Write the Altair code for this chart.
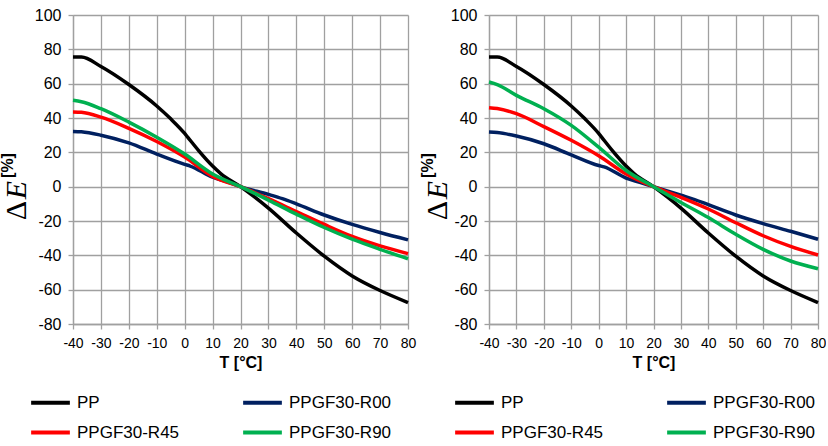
import altair as alt
import pandas as pd

SERIES = ["PP", "PPGF30-R00", "PPGF30-R45", "PPGF30-R90"]
COLORS = ["#000000", "#002060", "#ff0000", "#00b050"]
X_TICKS = list(range(-40, 81, 10))
Y_TICKS = list(range(-80, 101, 20))

# PP (same in both panels)
PP_T = [-40, -37, -30, -20, -10, -5, 0, 1, 5, 10, 13, 20, 25, 30, 40, 50, 60, 70, 80]
PP_V = [75.5, 75.5, 70, 59.5, 47, 39.5, 31, 29, 21, 12, 7.5, 0, -6, -12.5, -27, -40.5, -52, -60.5, -67.5]

R00_T = [-40, -37, -30, -20, -10, 0, 2, 10, 15, 20, 30, 35, 40, 50, 60, 70, 80]
R00_LEFT = [32.2, 32, 30, 25.5, 19, 13, 12, 5.5, 3, 0, -4.5, -7, -10, -16.5, -22, -26.7, -31]
R00_RIGHT = [31.8, 31.5, 29.5, 25, 18.5, 12.3, 11.5, 5, 2.5, 0, -5, -7.5, -10.5, -16.5, -21.5, -26, -30.6]

RX_T = [-40, -37, -30, -20, -10, 0, 10, 20, 30, 40, 50, 60, 70, 80]
R45_LEFT = [43.5, 43.3, 40.5, 34, 26.3, 17.2, 6, 0, -7, -14.5, -22, -29, -34.5, -39]
R45_RIGHT = [46, 45.5, 42.5, 35, 27, 18, 7.4, 0, -6.2, -13, -21, -28.6, -34.8, -39.8]
R90_LEFT = [50.3, 49.5, 45.4, 37.6, 28.8, 19, 7.4, 0, -7.8, -16, -23.8, -30.6, -36.5, -42]
R90_RIGHT = [61, 59.5, 53.2, 45.4, 35.7, 23, 9.4, 0, -9.2, -18, -27.7, -36.5, -43.3, -47.8]


def frame(r00, r45, r90):
    rows = []
    for name, ts, vs in [("PP", PP_T, PP_V), ("PPGF30-R00", R00_T, r00),
                         ("PPGF30-R45", RX_T, r45), ("PPGF30-R90", RX_T, r90)]:
        for t, v in zip(ts, vs):
            rows.append({"series": name, "T": t, "dE": v})
    return pd.DataFrame(rows)


GRID = "#a0a0a0"


def panel(df, w, title_x, legend_x):
    lines = alt.Chart(df).mark_line(strokeWidth=3.5, interpolate="monotone").encode(
        x=alt.X("T:Q", scale=alt.Scale(domain=[-40, 80], nice=False),
                axis=alt.Axis(values=X_TICKS, title="T [°C]", labelFontSize=14,
                              labelExpr="'' + datum.value", labelFlush=False,
                              labelOverlap=False,
                              titleFontSize=16, titleFontWeight="bold", labelPadding=7,
                              titlePadding=4)),
        y=alt.Y("dE:Q", scale=alt.Scale(domain=[-80, 100], nice=False),
                axis=alt.Axis(values=Y_TICKS, title="[%]", labelFontSize=16, labelPadding=7,
                              labelExpr="'' + datum.value", labelOverlap=False,
                              titleX=title_x - 10, titleY=150, titleAngle=270,
                              titleAlign="center", titleBaseline="middle",
                              titleFontSize=16, titleFontWeight="bold")),
        color=alt.Color("series:N", scale=alt.Scale(domain=SERIES, range=COLORS),
                        legend=alt.Legend(title=None, orient="none", legendX=legend_x, legendY=366,
                                          direction="horizontal",
                                          columns=2, symbolType="stroke", symbolSize=1500,
                                          symbolStrokeWidth=4, labelFontSize=17,
                                          labelFont="Liberation Sans", columnPadding=55,
                                          rowPadding=0, labelOffset=5, padding=0,
                                          labelColor="#000000")),
        order=alt.Order("T:Q"),
    )
    t1 = alt.Chart(pd.DataFrame({"s": ["Δ"]})).mark_text(
        font="Liberation Serif", fontSize=30, angle=270, align="center", baseline="middle",
        color="#000000").encode(text="s:N", x=alt.value(title_x), y=alt.value(195.5))
    t2 = alt.Chart(pd.DataFrame({"s": ["E"]})).mark_text(
        font="Liberation Serif", fontSize=30, fontStyle="italic", angle=270, align="center",
        baseline="middle", color="#000000").encode(text="s:N", x=alt.value(title_x), y=alt.value(175))
    return alt.layer(lines, t1, t2).properties(width=w, height=309)


left = panel(frame(R00_LEFT, R45_LEFT, R90_LEFT), 335, -56, -44)
right = panel(frame(R00_RIGHT, R45_RIGHT, R90_RIGHT), 329, -51.5, -36)

chart = alt.hconcat(left, right, spacing=3).resolve_legend(color="independent").properties(
    padding={"left": -1, "top": 7, "right": 0, "bottom": 0}
).configure_view(stroke=None).configure_axis(
    grid=True, gridColor=GRID, gridWidth=1.3, domainColor=GRID, domainWidth=1.3,
    tickColor=GRID, tickSize=5, tickWidth=1.3, labelColor="#000000", titleColor="#000000",
    labelFont="Liberation Sans", titleFont="Liberation Sans"
)

chart.save("out.html", embed_options={"renderer": "svg", "actions": False})
